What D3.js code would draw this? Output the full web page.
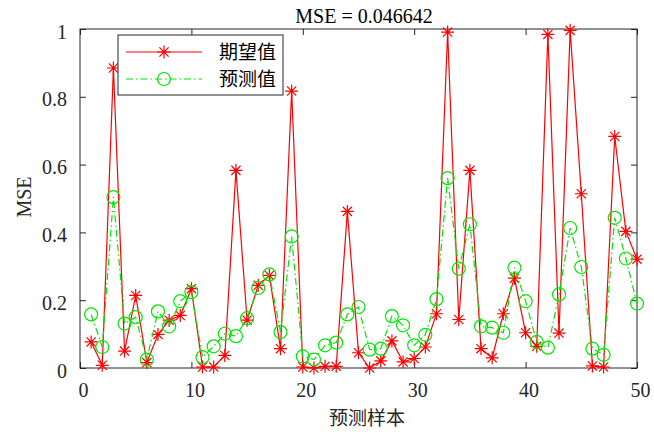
<!DOCTYPE html>
<html>
<head>
<meta charset="utf-8">
<script src="https://cdn.jsdelivr.net/npm/d3@7/dist/d3.min.js"></script>
<style>
  html, body { margin: 0; padding: 0; background: #fff; }
  svg { display: block; }
</style>
</head>
<body>
<div id="chart"></div>
<script>
// Sample index and the two series
const samples = d3.range(1, 51);
const expected = [
  0.077, 0.008, 0.885, 0.050, 0.214, 0.016, 0.099, 0.141, 0.155, 0.234,
  0.003, 0.003, 0.037, 0.583, 0.141, 0.244, 0.273, 0.057, 0.817, 0.003,
  0.000, 0.005, 0.005, 0.462, 0.045, 0.000, 0.021, 0.080, 0.018, 0.028,
  0.062, 0.160, 0.991, 0.143, 0.583, 0.057, 0.030, 0.160, 0.265, 0.104,
  0.064, 0.984, 0.103, 0.996, 0.514, 0.006, 0.003, 0.683, 0.403, 0.321
];
const predicted = [
  0.158, 0.062, 0.504, 0.131, 0.150, 0.025, 0.167, 0.123, 0.197, 0.224,
  0.032, 0.064, 0.101, 0.094, 0.147, 0.236, 0.276, 0.106, 0.388, 0.034,
  0.025, 0.067, 0.075, 0.158, 0.180, 0.054, 0.057, 0.153, 0.126, 0.067,
  0.098, 0.203, 0.560, 0.293, 0.424, 0.123, 0.119, 0.104, 0.296, 0.197,
  0.077, 0.060, 0.217, 0.413, 0.298, 0.057, 0.039, 0.443, 0.323, 0.190
];
const xTicks = [0, 10, 20, 30, 40, 50];
const yTicks = [0, 0.2, 0.4, 0.6, 0.8, 1];
const legendNames = ["期望值", "预测值"];
const titleText = "MSE = 0.046642";
const xLabel = "预测样本";
const yLabel = "MSE";

const W = 654, H = 432;
const m = { left: 80, right: 17, top: 29, bottom: 64 };
const pw = W - m.left - m.right, ph = H - m.top - m.bottom;

const RED = "#ff0000", GREEN = "#00e600", AXIS = "#262626";
const numFont = "'Liberation Serif', 'Times New Roman', serif";
const cjkFont = "'Noto Sans CJK SC', sans-serif";

const svg = d3.select("#chart").append("svg")
  .attr("width", W).attr("height", H);

const x = d3.scaleLinear().domain([0, 50]).range([m.left, m.left + pw]);
const y = d3.scaleLinear().domain([0, 1]).range([m.top + ph, m.top]);

// Axes with inward ticks on all four sides
const tickLen = 6;
const fmt = d => d3.format("~g")(d);
function styleAxis(g) {
  g.select(".domain").remove();
  g.selectAll(".tick line").attr("stroke", AXIS).attr("stroke-width", 1);
}
svg.append("g").attr("transform", `translate(0,${m.top + ph})`)
  .call(d3.axisBottom(x).tickValues(xTicks).tickSize(-tickLen).tickPadding(15).tickFormat(fmt))
  .call(styleAxis)
  .call(g => g.selectAll(".tick text").attr("font-family", numFont).attr("font-size", 20)
    .attr("fill", AXIS).attr("dx", 3));
svg.append("g").attr("transform", `translate(0,${m.top})`)
  .call(d3.axisTop(x).tickValues(xTicks).tickSize(-tickLen).tickFormat(""))
  .call(styleAxis);
svg.append("g").attr("transform", `translate(${m.left},0)`)
  .call(d3.axisLeft(y).tickValues(yTicks).tickSize(-tickLen).tickPadding(13).tickFormat(fmt))
  .call(styleAxis)
  .call(g => g.selectAll(".tick text").attr("font-family", numFont).attr("font-size", 20)
    .attr("fill", AXIS).attr("dy", "0.45em"));
svg.append("g").attr("transform", `translate(${m.left + pw},0)`)
  .call(d3.axisRight(y).tickValues(yTicks).tickSize(-tickLen).tickFormat(""))
  .call(styleAxis);

// Plot box
svg.append("rect")
  .attr("x", m.left).attr("y", m.top).attr("width", pw).attr("height", ph)
  .attr("fill", "none").attr("stroke", AXIS).attr("stroke-width", 1);

// Asterisk marker: plus and cross combined
function starPath(cx, cy, r) {
  const d = r * Math.SQRT1_2;
  return `M${cx - r},${cy}L${cx + r},${cy}M${cx},${cy - r}L${cx},${cy + r}` +
         `M${cx - d},${cy - d}L${cx + d},${cy + d}M${cx - d},${cy + d}L${cx + d},${cy - d}`;
}

const line = d3.line().x((d, i) => x(samples[i])).y(d => y(d));

// Expected series: solid red line with asterisks
svg.append("path").datum(expected)
  .attr("d", line).attr("fill", "none").attr("stroke", RED).attr("stroke-width", 1.2);
svg.append("g").selectAll("path").data(expected).join("path")
  .attr("d", (d, i) => starPath(x(samples[i]), y(d), 6.5))
  .attr("stroke", RED).attr("stroke-width", 1.2).attr("fill", "none");

// Predicted series: green dash-dot line with circles
svg.append("path").datum(predicted)
  .attr("d", line).attr("fill", "none").attr("stroke", GREEN).attr("stroke-width", 1.2)
  .attr("stroke-dasharray", "7,3,1.5,3");
svg.append("g").selectAll("circle").data(predicted).join("circle")
  .attr("cx", (d, i) => x(samples[i])).attr("cy", d => y(d)).attr("r", 6.5)
  .attr("fill", "none").attr("stroke", GREEN).attr("stroke-width", 1.2);

// Title and axis labels
svg.append("text").attr("x", 364).attr("y", 23).attr("text-anchor", "middle")
  .attr("font-family", numFont).attr("font-size", 20).attr("fill", "#000").text(titleText);
svg.append("text").attr("x", 367).attr("y", 425).attr("text-anchor", "middle")
  .attr("font-family", cjkFont).attr("font-size", 19).attr("fill", "#262626").text(xLabel);
svg.append("text").attr("transform", "translate(31,197) rotate(-90)").attr("text-anchor", "middle")
  .attr("font-family", numFont).attr("font-size", 20).attr("fill", "#262626").text(yLabel);

// Legend
const lg = svg.append("g");
lg.append("rect").attr("x", 118).attr("y", 35).attr("width", 165).attr("height", 60)
  .attr("fill", "#fff").attr("stroke", AXIS).attr("stroke-width", 1);
const rows = [
  { name: legendNames[0], color: RED, dash: null, marker: "star", cy: 52 },
  { name: legendNames[1], color: GREEN, dash: "7,3,1.5,3", marker: "circle", cy: 79 }
];
rows.forEach(r => {
  lg.append("line").attr("x1", 126).attr("x2", 202).attr("y1", r.cy).attr("y2", r.cy)
    .attr("stroke", r.color).attr("stroke-width", 1.2)
    .attr("stroke-dasharray", r.dash);
  if (r.marker === "star") {
    lg.append("path").attr("d", starPath(164, r.cy, 6.5))
      .attr("stroke", r.color).attr("stroke-width", 1.2).attr("fill", "none");
  } else {
    lg.append("circle").attr("cx", 164).attr("cy", r.cy).attr("r", 6.5)
      .attr("stroke", r.color).attr("stroke-width", 1.2).attr("fill", "none");
  }
  lg.append("text").attr("x", 219).attr("y", r.cy).attr("dy", "0.36em")
    .attr("font-family", cjkFont).attr("font-size", 19).attr("fill", "#000").text(r.name);
});
</script>
</body>
</html>
